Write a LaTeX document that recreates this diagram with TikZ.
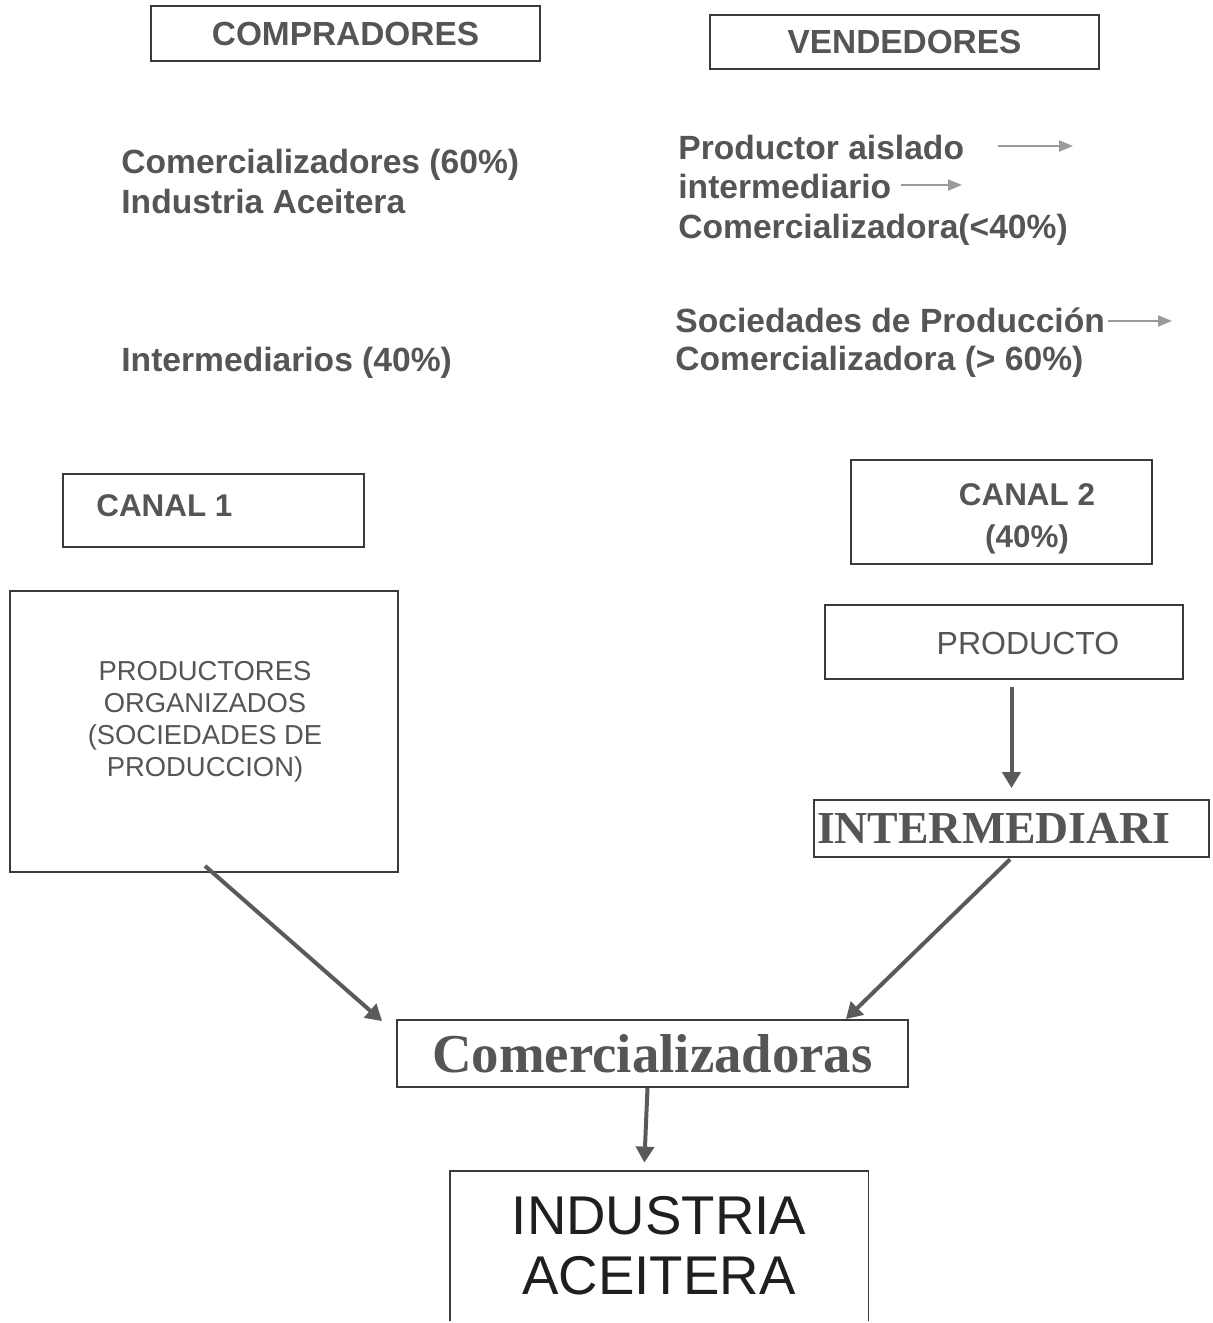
\documentclass[tikz,border=0pt]{standalone}
\usepackage{fontspec}
\newfontfamily\arialfont{Liberation Sans}
\newfontfamily\timesfont{Liberation Serif}
\usetikzlibrary{calc,arrows.meta,positioning}
\definecolor{textgray}{HTML}{555555}
\definecolor{linegray}{HTML}{3A3A3A}
\definecolor{arrowgray}{HTML}{5A5A5A}
\definecolor{lightarrow}{HTML}{9A9A9A}
\tikzset{
    box/.style={
    rectangle,draw=linegray,line width=0.9pt,inner sep=0pt
    },
    titlebox/.style={
    box,text=textgray,font=\arialfont\bfseries\fontsize{16.7}{20}\selectfont
    },
    boldtext/.style={
    inner sep=0pt,anchor=west,align=left,text=textgray,
    font=\arialfont\bfseries\fontsize{16.8}{20}\selectfont
    },
    plaintext/.style={
    inner sep=0pt,align=center,text=textgray,font=\arialfont
    },
    bigarrow/.style={
    draw=arrowgray,line width=2pt,-{Triangle[length=8pt,width=9pt]}
    },
    thinarrow/.style={
    draw=lightarrow,line width=1pt,-{Triangle[length=7pt,width=5.5pt]}
    },
}
\begin{document}
\begin{tikzpicture}[x=0.5pt,y=-0.5pt]
   \useasboundingbox (0,0) rectangle (1212,1323);

   %top boxes
   \node[titlebox,minimum width=194.5pt,minimum height=27.5pt] (compradores) at (345.5,33.5) {COMPRADORES};
   \node[titlebox,minimum width=194.5pt,minimum height=27pt] (vendedores) at (904.5,42) {VENDEDORES};

   %compradores
   \node[boldtext] (cmpr) at (121,181) {Comercializadores (60\%)\\Industria Aceitera};
   \node[boldtext] (cinter) at (121,363) {Intermediarios (40\%)};

   %vendedores
   \node[boldtext] (vprod) at (678,147) {Productor aislado};
   \node[boldtext] (vinter) at (678,186) {intermediario};
   \node[boldtext] (vcom1) at (678,230) {Comercializadora(<40\%)};
   \node[boldtext] (vsoc) at (675,320) {Sociedades de Producción};
   \node[boldtext] (vcom2) at (675,362) {Comercializadora (> 60\%)};
   \coordinate (g1) at (1073,146);
   \coordinate (g2) at (962,185);
   \coordinate (g3) at (1172,321);

   %canales
   \node[box,minimum width=150.5pt,minimum height=36.5pt] (canal1) at (213.5,510.5) {};
   \node[boldtext,font=\arialfont\bfseries\fontsize{15.7}{20}\selectfont] (canal1t) at (96,506) {CANAL 1};
   \node[box,minimum width=150.5pt,minimum height=52pt] (canal2) at (1001.5,512) {};
   \node[boldtext,anchor=center,align=center,font=\arialfont\bfseries\fontsize{15.7}{21}\selectfont] (canal2t) at (1027,519) {CANAL 2\\(40\%)};

   %canal 1
   \node[box,minimum width=194pt,minimum height=140.5pt] (productores) at (204,731.5) {};
   \node[plaintext,font=\arialfont\fontsize{13.7}{16}\selectfont] (productorest) at (205,722) {PRODUCTORES\\ORGANIZADOS\\(SOCIEDADES DE\\PRODUCCION)};

   %canal 2
   \node[box,minimum width=179pt,minimum height=37pt] (producto) at (1004,642) {};
   \node[plaintext,font=\arialfont\fontsize{16}{19}\selectfont] (productot) at (1028,643) {PRODUCTO};
   \node[box,minimum width=197.5pt,minimum height=28.5pt,text width=194.5pt,inner xsep=1.5pt,align=left,
         text=textgray,font=\timesfont\bfseries\fontsize{22.9}{24}\selectfont] (intermediari) at (1011.5,828.5) {INTERMEDIARI};

   %destino
   \node[box,minimum width=255.5pt,minimum height=33.5pt,text=textgray,
         font=\timesfont\bfseries\fontsize{27.4}{30}\selectfont] (comerc) at (652.5,1053.5) {Comercializadoras};
   \node[inner sep=0pt,minimum width=209pt,minimum height=75pt,align=center,text=black!88,
         font=\arialfont\fontsize{27.3}{30}\selectfont] (industria) at (659,1246) {INDUSTRIA\\ACEITERA};
   \draw[draw=linegray,line width=0.9pt] (industria.south west) |- (industria.north east) -- (industria.south east);

   \draw[thinarrow,shorten <=17pt] (vprod.east |- g1) -- (g1);
   \draw[thinarrow,shorten <=4.5pt] (vinter.east |- g2) -- (g2);
   \draw[thinarrow,shorten <=1.5pt] (vsoc.east |- g3) -- (g3);

   \draw[bigarrow,shorten <=3.5pt,shorten >=5.5pt] (producto.south -| intermediari.north) -- (intermediari.north);
   \draw[bigarrow,shorten <=1pt] (intermediari.south) -- ($(comerc.north east)+(-63,0)$);
   \draw[bigarrow] ($(productores.south)+(1,-7)$) -- ($(comerc.north west)+(-14,2)$);
   \draw[bigarrow,shorten >=4pt] ($(comerc.south)+(-5,0)$) -- ($(industria.north)+(-15,0)$);
\end{tikzpicture}
\end{document}
